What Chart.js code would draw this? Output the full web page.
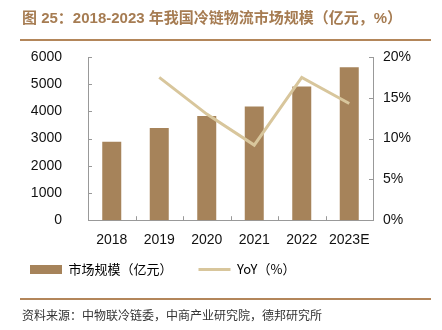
<!DOCTYPE html>
<html>
<head>
<meta charset="utf-8">
<script src="https://cdn.jsdelivr.net/npm/chart.js@4.4.0/dist/chart.umd.min.js"></script>
<style>
  body { margin: 0; background: #fff; }
  #wrap { position: relative; width: 442px; height: 330px; }
  #c { position: absolute; left: 0; top: 0; }
  .title {
    position: absolute; left: 22px; top: 6px;
    font: bold 15px "Liberation Sans", "Noto Sans CJK SC", sans-serif;
    color: #a67c52; white-space: nowrap;
  }
  .rule { position: absolute; left: 20px; width: 411px; height: 2px; background: #b3865a; }
  .source {
    position: absolute; left: 22px; top: 306px;
    font: 12px "Noto Sans CJK SC", sans-serif; color: #333; white-space: nowrap;
  }
</style>
</head>
<body>
<div id="wrap">
  <canvas id="c" width="442" height="330"></canvas>
  <div class="title">图 25：2018-2023 年我国冷链物流市场规模（亿元，%）</div>
  <div class="rule" style="top:39px"></div>
  <div class="rule" style="top:298px"></div>
  <div class="source">资料来源：中物联冷链委，中商产业研究院，德邦研究所</div>
</div>
<script>
const years = ["2018", "2019", "2020", "2021", "2022", "2023E"];
const marketSize = [2886, 3391, 3832, 4184, 4916, 5620];   // 亿元
const yoy = [null, 17.5, 13.0, 9.2, 17.5, 14.3];            // %

const barColor = "#a6835a";
const lineColor = "#d8c69c";
const axisColor = "#999";
const tickFont = { family: "Liberation Sans", size: 14 };

// short tick marks pointing into the plot
const innerTicks = {
  id: "innerTicks",
  afterDraw(chart) {
    const { ctx, chartArea: a, scales } = chart;
    ctx.save();
    ctx.strokeStyle = axisColor;
    ctx.lineWidth = 1;
    ctx.beginPath();
    scales.y.ticks.forEach(t => {
      const py = Math.round(scales.y.getPixelForValue(t.value)) + 0.5;
      ctx.moveTo(a.left, py); ctx.lineTo(a.left + 4, py);
    });
    scales.y1.ticks.forEach(t => {
      const py = Math.round(scales.y1.getPixelForValue(t.value)) + 0.5;
      ctx.moveTo(a.right - 4, py); ctx.lineTo(a.right, py);
    });
    const step = (a.right - a.left) / years.length;
    for (let i = 1; i < years.length; i++) {
      const px = Math.round(a.left + step * i) + 0.5;
      ctx.moveTo(px, a.bottom); ctx.lineTo(px, a.bottom - 4);
    }
    ctx.stroke();
    ctx.restore();
  }
};

// pull the legend up closer to the category labels and nudge it left
const legendShift = {
  id: "legendShift",
  afterLayout(chart) {
    chart.legend.top -= 16;
    chart.legend.bottom -= 16;
    chart.legend.left += 4;
  }
};

new Chart(document.getElementById("c"), {
  data: {
    labels: years,
    datasets: [
      {
        type: "line",
        label: "YoY（%）",
        data: yoy,
        yAxisID: "y1",
        borderColor: lineColor,
        backgroundColor: lineColor,
        borderWidth: 3,
        pointRadius: 0,
        tension: 0,
        order: 0
      },
      {
        type: "bar",
        label: "市场规模（亿元）",
        data: marketSize,
        yAxisID: "y",
        backgroundColor: barColor,
        categoryPercentage: 1,
        barPercentage: 0.4,
        order: 1
      }
    ]
  },
  options: {
    responsive: false,
    animation: false,
    layout: { padding: { top: 57, bottom: 28, left: 0, right: 0 } },
    scales: {
      x: {
        offset: true,
        grid: { display: false },
        border: { display: true, color: axisColor },
        ticks: { color: "#111", font: tickFont, padding: 4, maxRotation: 0 }
      },
      y: {
        position: "left",
        min: 0, max: 6000,
        grid: { display: false },
        border: { display: true, color: axisColor },
        ticks: { stepSize: 1000, color: "#111", font: tickFont, padding: 18, callback: v => String(v) },
        afterFit(s) { s.width = 88; }
      },
      y1: {
        position: "right",
        min: 0, max: 20,
        grid: { display: false },
        border: { display: true, color: axisColor },
        ticks: { stepSize: 5, color: "#111", font: tickFont, padding: 2, callback: v => v + "%" },
        afterFit(s) { s.width = 69; }
      }
    },
    plugins: {
      tooltip: { enabled: false },
      legend: {
        position: "bottom",
        align: "start",
        reverse: true,
        labels: {
          usePointStyle: true,
          pointStyleWidth: 32,
          boxHeight: 9,
          padding: 26,
          color: "#222",
          font: { family: "Noto Sans CJK SC", size: 13 },
          generateLabels(chart) {
            return chart.data.datasets.map((ds, i) => ({
              text: ds.label,
              fillStyle: ds.backgroundColor,
              strokeStyle: ds.type === "line" ? ds.borderColor : ds.backgroundColor,
              lineWidth: ds.type === "line" ? 3 : 0,
              pointStyle: ds.type === "line" ? "line" : "rect",
              datasetIndex: i,
              hidden: false
            }));
          }
        }
      }
    }
  },
  plugins: [innerTicks, legendShift]
});
</script>
</body>
</html>
